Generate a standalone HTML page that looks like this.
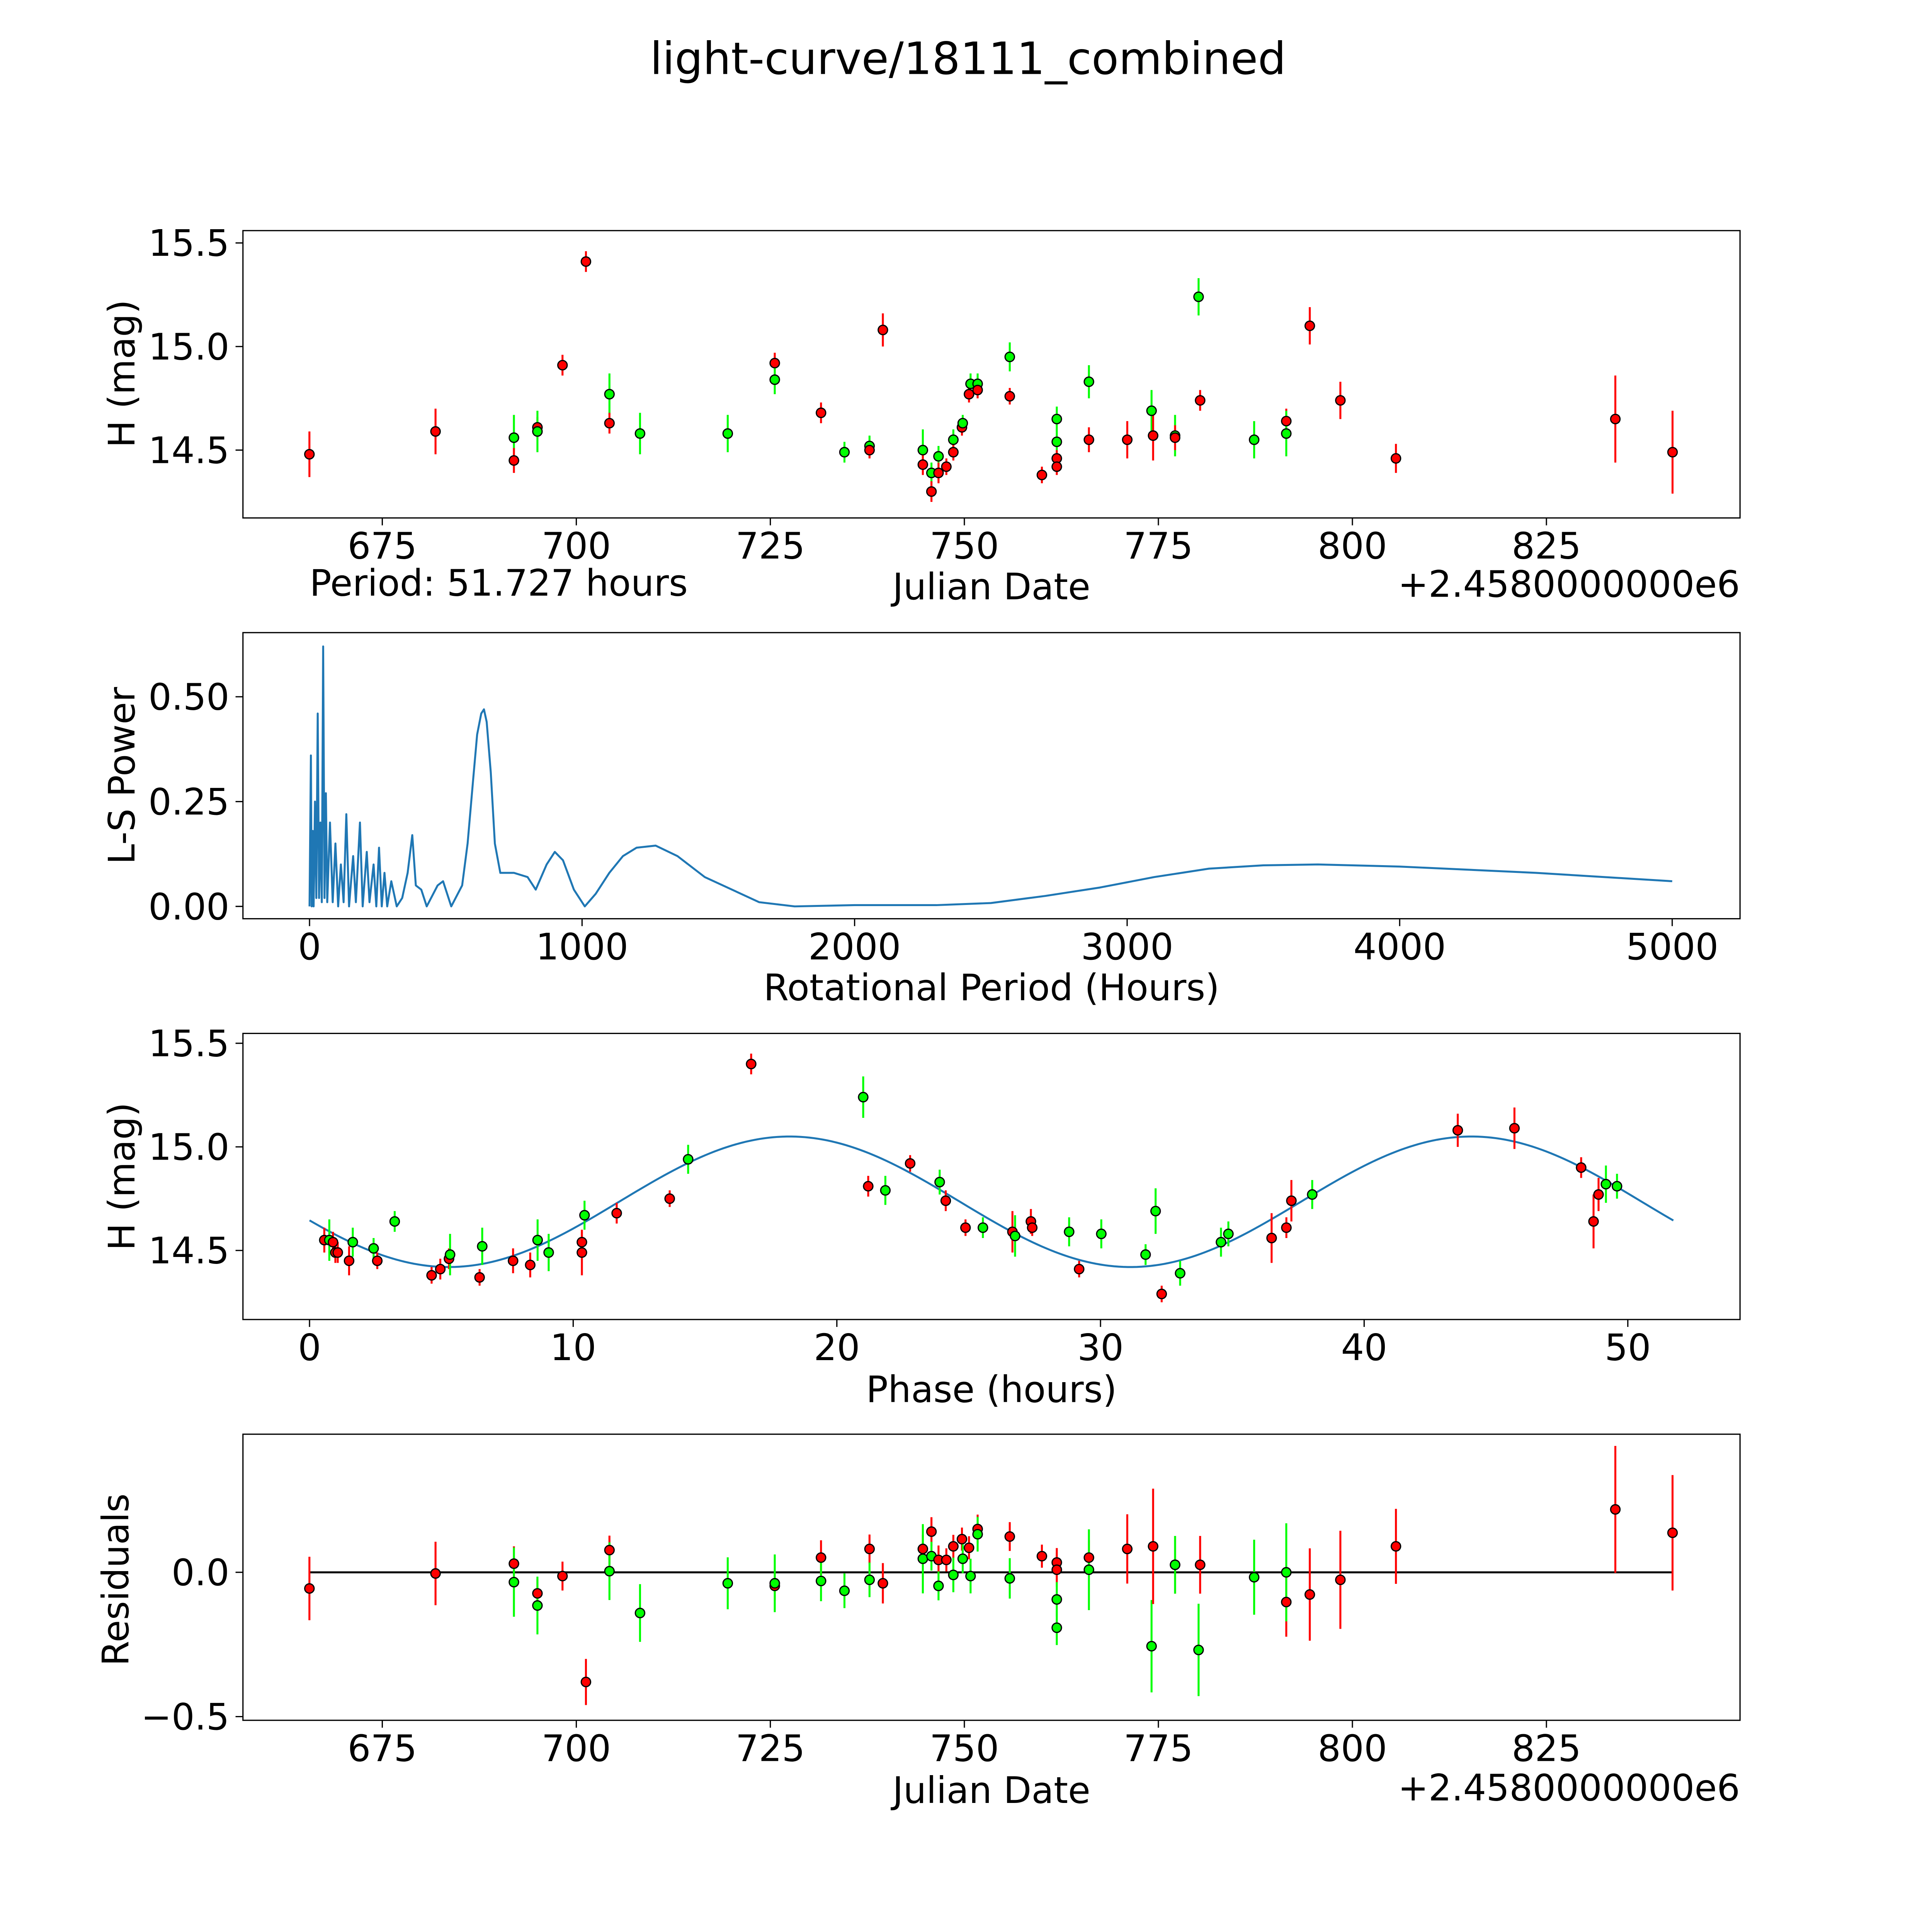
<!DOCTYPE html>
<html><head><meta charset="utf-8"><style>
html,body{margin:0;padding:0;background:#fff;width:5400px;height:5400px;overflow:hidden}
svg{display:block}
text{font-family:"DejaVu Sans","Liberation Sans",sans-serif;fill:#000}
</style></head><body>
<svg id="fig" width="5400" height="5400" viewBox="0 0 1692 1692" xmlns="http://www.w3.org/2000/svg">
<rect width="1692" height="1692" fill="#fff"/>
<text x="785" y="60" font-size="36" text-anchor="middle">light-curve/18111_combined</text>
<g id="g1"></g>
<g id="g2"></g>
<g id="g3"></g>
<g id="g4"></g>
</svg>
<script>
// ---- Panel 1 data: light curve ----
const lcDate=[665.61,681.86,691.96,691.96,694.99,694.99,698.22,701.24,704.27,704.27,708.21,719.51,725.57,725.57,731.53,734.55,737.78,737.78,739.5,744.65,744.65,745.76,745.76,746.67,746.67,747.68,748.58,748.58,749.69,749.79,750.6,750.8,751.71,751.71,755.85,755.85,759.99,761.91,761.91,761.91,761.91,766.05,766.05,770.99,774.12,774.32,777.15,777.15,780.18,780.38,787.34,791.48,791.48,794.51,798.45,805.61,833.88,841.25];
const lcMag=[14.48,14.59,14.56,14.45,14.61,14.59,14.91,15.41,14.77,14.63,14.58,14.58,14.92,14.84,14.68,14.49,14.52,14.50,15.08,14.50,14.43,14.39,14.30,14.47,14.39,14.42,14.55,14.49,14.61,14.63,14.77,14.82,14.82,14.79,14.95,14.76,14.38,14.65,14.54,14.46,14.42,14.83,14.55,14.55,14.69,14.57,14.57,14.56,15.24,14.74,14.55,14.64,14.58,15.10,14.74,14.46,14.65,14.49];
const lcErr=[0.11,0.11,0.11,0.06,0.05,0.1,0.05,0.05,0.1,0.05,0.1,0.09,0.05,0.07,0.05,0.05,0.05,0.04,0.08,0.1,0.05,0.05,0.05,0.05,0.05,0.04,0.05,0.04,0.04,0.04,0.04,0.05,0.05,0.04,0.07,0.04,0.04,0.06,0.06,0.04,0.04,0.08,0.06,0.09,0.1,0.12,0.1,0.06,0.09,0.05,0.09,0.06,0.11,0.09,0.09,0.07,0.21,0.2];
const lcColor=['r','r','g','r','r','g','r','r','g','r','g','g','r','g','r','g','g','r','r','g','r','g','r','g','r','r','g','r','r','g','r','g','g','r','g','r','r','g','g','r','r','g','r','r','g','r','g','r','g','r','g','r','g','r','r','r','r','r'];
// ---- Panel 2 data: periodogram ----
const lsPeriod=[0,5,8,12,15,20,25,30,35,40,45,50,55,60,65,75,85,95,105,115,125,135,145,160,170,185,195,210,220,235,245,255,265,275,285,300,320,340,360,377,390,410,430,470,490,520,560,580,600,615,630,640,650,665,680,700,750,800,830,870,900,930,970,1010,1050,1100,1150,1200,1270,1350,1450,1550,1650,1780,2000,2300,2500,2700,2900,3100,3300,3500,3700,4000,4500,5000];
const lsPower=[0,0.36,0,0.18,0,0.25,0.02,0.46,0.02,0.2,0.01,0.62,0.02,0.27,0.01,0.2,0.01,0.15,0,0.1,0.01,0.22,0,0.12,0.01,0.2,0,0.13,0.01,0.1,0,0.14,0,0.08,0,0.06,0,0.02,0.08,0.17,0.05,0.04,0,0.05,0.06,0,0.05,0.15,0.3,0.41,0.46,0.47,0.44,0.32,0.15,0.08,0.08,0.07,0.04,0.1,0.13,0.11,0.04,0,0.03,0.08,0.12,0.14,0.145,0.12,0.07,0.04,0.01,0,0.003,0.003,0.008,0.025,0.045,0.07,0.09,0.098,0.1,0.095,0.08,0.06];
// ---- Panel 3 data: phased ----
const phPhase=[0.56,0.75,0.89,0.98,1.07,1.5,1.64,2.43,2.57,3.23,4.63,4.96,5.29,5.33,6.45,6.55,7.72,8.37,8.65,9.07,10.33,10.33,10.43,11.65,13.66,14.36,16.75,21.0,21.19,21.84,22.78,23.9,24.13,24.88,25.54,26.66,26.76,27.36,27.41,28.81,29.19,30.03,31.71,32.09,32.32,33.02,34.57,34.85,36.49,37.05,37.24,38.03,43.55,45.7,48.23,48.7,48.89,49.17,49.59];
const phMag=[14.55,14.55,14.54,14.49,14.49,14.45,14.54,14.51,14.45,14.64,14.38,14.41,14.46,14.48,14.37,14.52,14.45,14.43,14.55,14.49,14.54,14.49,14.67,14.68,14.75,14.94,15.40,15.24,14.81,14.79,14.92,14.83,14.74,14.61,14.61,14.59,14.57,14.64,14.61,14.59,14.41,14.58,14.48,14.69,14.29,14.39,14.54,14.58,14.56,14.61,14.74,14.77,15.08,15.09,14.90,14.64,14.77,14.82,14.81];
const phErr=[0.06,0.1,0.05,0.05,0.05,0.07,0.07,0.05,0.04,0.05,0.04,0.05,0.05,0.1,0.04,0.09,0.06,0.06,0.1,0.09,0.05,0.11,0.07,0.05,0.04,0.07,0.05,0.1,0.05,0.07,0.04,0.06,0.05,0.04,0.05,0.1,0.1,0.06,0.04,0.07,0.04,0.07,0.05,0.11,0.04,0.06,0.07,0.06,0.12,0.05,0.1,0.07,0.08,0.1,0.05,0.13,0.08,0.09,0.06];
const phColor=['r','g','r','r','r','r','g','g','r','g','r','r','r','g','r','g','r','r','g','g','r','r','g','r','r','g','r','g','r','g','r','g','r','r','g','r','g','r','r','g','r','g','g','g','r','g','g','g','r','r','r','g','r','r','r','r','r','g','g'];
const fitParams=[14.735,0.315,25.86,11.74,51.727]; // mean, amplitude, half-period, phase offset, period
// ---- Panel 4 data: residuals ----
const rsDate=[665.61,681.86,691.96,691.96,694.99,694.99,698.22,701.24,704.27,704.27,708.21,719.51,725.57,725.57,731.53,731.53,734.55,737.78,737.78,739.5,744.65,744.65,745.76,745.76,746.67,746.67,747.68,748.58,748.58,749.69,749.79,750.6,750.8,751.71,751.71,755.85,755.85,759.99,761.91,761.91,761.91,761.91,766.05,766.05,770.99,774.12,774.32,777.15,777.15,780.18,780.38,787.34,791.48,791.48,794.51,798.45,805.61,833.88,841.25];
const rsVal=[-0.056,-0.004,0.03,-0.034,-0.073,-0.115,-0.013,-0.38,0.077,0.004,-0.141,-0.038,-0.047,-0.038,0.051,-0.030,-0.064,0.081,-0.026,-0.038,0.081,0.047,0.141,0.056,0.043,-0.047,0.043,0.090,-0.009,0.115,0.047,0.085,-0.013,0.150,0.132,0.124,-0.021,0.056,0.034,0.009,-0.094,-0.192,0.051,0.009,0.081,-0.256,0.090,0.026,0.026,-0.269,0.026,-0.017,-0.103,0.0,-0.077,-0.026,0.090,0.218,0.137];
const rsErr=[0.11,0.11,0.06,0.12,0.05,0.1,0.05,0.08,0.05,0.1,0.1,0.09,0.05,0.1,0.06,0.07,0.06,0.05,0.06,0.07,0.05,0.12,0.05,0.05,0.05,0.05,0.04,0.04,0.06,0.04,0.05,0.04,0.06,0.05,0.06,0.05,0.07,0.04,0.05,0.06,0.06,0.06,0.06,0.14,0.12,0.16,0.2,0.1,0.1,0.16,0.1,0.13,0.12,0.17,0.16,0.17,0.13,0.22,0.2];
const rsColor=['r','r','r','g','r','g','r','r','r','g','g','g','r','g','r','g','g','r','g','r','r','g','r','g','r','g','r','r','g','r','g','r','g','r','g','r','g','r','r','r','g','g','r','g','r','g','r','r','g','g','r','g','r','g','r','r','r','r','r'];
const dateTicks=[675,700,725,750,775,800,825];
const lsTicksX=[0,1000,2000,3000,4000,5000];
const lsTicksY=[0,0.25,0.5];
const phTicksX=[0,10,20,30,40,50];
const magTicks=[14.5,15.0,15.5];
const resTicks=[0,-0.5];

const NS='http://www.w3.org/2000/svg';
const COL={r:'#ff0000',g:'#00ff00'};
const FS=29.5;
function el(parent,tag,attrs){const e=document.createElementNS(NS,tag);for(const k in attrs)e.setAttribute(k,attrs[k]);parent.appendChild(e);return e;}
function lin(d0,d1,p0,p1){return v=>p0+(v-d0)*(p1-p0)/(d1-d0);}
const L=197,R=1411;
const xDate=lin(675,825,310,1254);

function frame(g,top,bottom,name){
  const f=el(g,'rect',{x:L,y:top,width:R-L,height:bottom-top,fill:'none',stroke:'#000','stroke-width':1});
  
  
}
function xTicks(g,ticks,xf,bottom,fmt,name){
  ticks.forEach(t=>{const x=xf(t);
    const l=el(g,'line',{x1:x,x2:x,y1:bottom,y2:bottom+6,stroke:'#000','stroke-width':1});
    
    
    const tx=el(g,'text',{x:x,y:bottom+33,'font-size':FS,'text-anchor':'middle'});
    tx.textContent=fmt(t);
    
    
  });
}
function yTicks(g,ticks,yf,fmt,name){
  ticks.forEach(t=>{const y=yf(t);
    const l=el(g,'line',{x1:L-6,x2:L,y1:y,y2:y,stroke:'#000','stroke-width':1});
    
    
    const tx=el(g,'text',{x:L-11,y:y+10.5,'font-size':FS,'text-anchor':'end'});
    tx.textContent=fmt(t);
    
    
  });
}
function label(g,txt,x,y,rot,anchor,name){
  const t=el(g,'text',{x:x,y:y,'font-size':FS,'text-anchor':anchor||'middle'});
  if(rot)t.setAttribute('transform','rotate(-90 '+x+' '+y+')');
  t.textContent=txt;
  
  
}
function points(g,xs,ys,es,cs,xf,yf,name){
  xs.forEach((xv,i)=>{const x=xf(xv),y1=yf(ys[i]-es[i]),y2=yf(ys[i]+es[i]);
    const eb=el(g,'line',{x1:x,x2:x,y1:y1,y2:y2,stroke:COL[cs[i]],'stroke-width':1.6});
    
    
  });
  xs.forEach((xv,i)=>{
    const c=el(g,'circle',{cx:xf(xv),cy:yf(ys[i]),r:3.8,fill:COL[cs[i]],stroke:'#000','stroke-width':1});
    
    
  });
}
const fmt1=v=>v.toFixed(1).replace('-','\u2212');
// Panel 1
(function(){const g=document.getElementById('g1');const T=187,B=420;
  const y=lin(14.5,15.5,365,197);
  frame(g,T,B,'light-curve');
  xTicks(g,dateTicks,xDate,B,v=>String(v),'date-axis');
  yTicks(g,magTicks,y,fmt1,'mag-axis');
  points(g,lcDate,lcMag,lcErr,lcColor,xDate,y,'light-curve');
  label(g,'H (mag)',109,303,true,'middle','y-axis-title');
  label(g,'Period: 51.727 hours',251,483,false,'start','period-label');
  label(g,'Julian Date',804,486,false,'middle','x-axis-title');
  label(g,'+2.4580000000e6',1411,484,false,'end','x-axis-offset');
})();
// Panel 2
(function(){const g=document.getElementById('g2');const T=513,B=745;
  const x=lin(0,5000,251,1356),y=lin(0,0.5,735,565);
  frame(g,T,B,'periodogram');
  xTicks(g,lsTicksX,x,B,v=>String(v),'period-axis');
  yTicks(g,lsTicksY,y,v=>v.toFixed(2),'power-axis');
  const p=el(g,'polyline',{points:lsPeriod.map((v,i)=>x(v)+','+y(lsPower[i])).join(' '),fill:'none',stroke:'#1f77b4','stroke-width':1.6,'stroke-linejoin':'round'});
  
  
  label(g,'L-S Power',109,629,true,'middle','y-axis-title');
  label(g,'Rotational Period (Hours)',804,811,false,'middle','x-axis-title');
})();
// Panel 3
(function(){const g=document.getElementById('g3');const T=838,B=1070;
  const x=lin(0,50,251,1320),y=lin(14.5,15.5,1014,846);
  frame(g,T,B,'phase');
  xTicks(g,phTicksX,x,B,v=>String(v),'phase-axis');
  yTicks(g,magTicks,y,fmt1,'mag-axis');
  const pts=[];for(let i=0;i<=300;i++){const p=fitParams[4]*i/300;pts.push(x(p)+','+y(fitParams[0]+fitParams[1]*Math.sin(2*Math.PI*(p-fitParams[3])/fitParams[2])));}
  const c=el(g,'polyline',{points:pts.join(' '),fill:'none',stroke:'#1f77b4','stroke-width':1.6});
  
  
  points(g,phPhase,phMag,phErr,phColor,x,y,'phase');
  label(g,'H (mag)',109,954,true,'middle','y-axis-title');
  label(g,'Phase (hours)',804,1137,false,'middle','x-axis-title');
})();
// Panel 4
(function(){const g=document.getElementById('g4');const T=1163,B=1395;
  const y=lin(0,-0.5,1275,1392);
  frame(g,T,B,'residuals');
  xTicks(g,dateTicks,xDate,B,v=>String(v),'date-axis');
  yTicks(g,resTicks,y,fmt1,'residual-axis');
  const z=el(g,'line',{x1:xDate(rsDate[0]),x2:xDate(rsDate[rsDate.length-1]),y1:y(0),y2:y(0),stroke:'#000','stroke-width':1.6});
  
  
  points(g,rsDate,rsVal,rsErr,rsColor,xDate,y,'residual');
  label(g,'Residuals',104,1281,true,'middle','y-axis-title');
  label(g,'Julian Date',804,1462,false,'middle','x-axis-title');
  label(g,'+2.4580000000e6',1411,1460,false,'end','x-axis-offset');
})();
</script>
</body></html>
